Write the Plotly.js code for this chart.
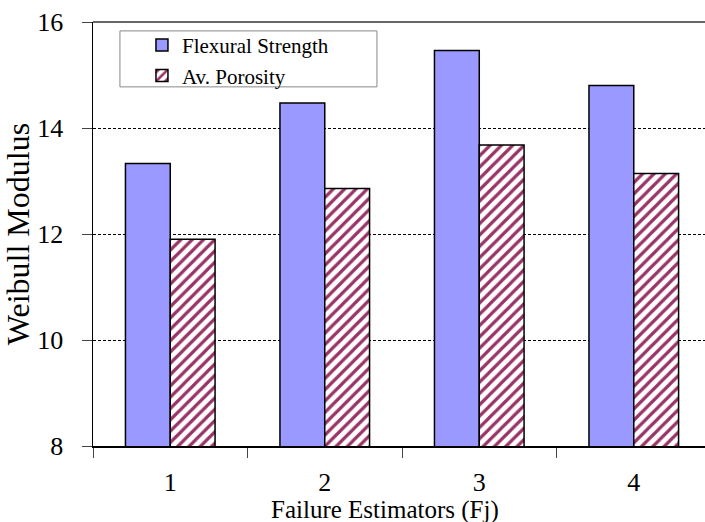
<!DOCTYPE html>
<html>
<head>
<meta charset="utf-8">
<script src="https://cdn.plot.ly/plotly-3.0.1.min.js"></script>
<style>html,body{margin:0;padding:0;background:#fff;}#chart{width:705px;height:522px;}</style>
</head>
<body>
<div id="chart"></div>
<script>
const categories = ["1", "2", "3", "4"];
const flexuralStrength = [13.33, 14.47, 15.46, 14.80];
const avPorosity = [11.90, 12.86, 13.68, 13.14];
const seriesNames = ["Flexural Strength", "Av. Porosity"];
const yTicks = [8, 10, 12, 14, 16];
const xTitle = "Failure Estimators (Fj)";
const yTitle = "Weibull Modulus";

const FONT = "'Liberation Serif', 'Times New Roman', serif";

const traces = [
  {
    type: "bar", name: seriesNames[0], x: categories, y: flexuralStrength,
    marker: {color: "#9999ff", line: {color: "#000", width: 1.5}}
  },
  {
    type: "bar", name: seriesNames[1], x: categories, y: avPorosity,
    marker: {color: "#ffffff", line: {color: "#000", width: 1.5},
      pattern: {shape: "/", fgcolor: "#993366", bgcolor: "#ffffff", size: 8, solidity: 0.4}}
  }
];

const layout = {
  width: 705, height: 522,
  margin: {l: 93, r: 0, t: 22, b: 76},
  paper_bgcolor: "#fff", plot_bgcolor: "#fff",
  barmode: "group", bargap: 0.42, bargroupgap: 0,
  font: {family: FONT, color: "#000", size: 22},
  xaxis: {
    type: "category", range: [-0.5, 3.461], tickson: "boundaries",
    ticks: "outside", ticklen: 10, tickcolor: "#444", tickwidth: 1,
    showline: true, linecolor: "#000", linewidth: 1.5, mirror: false,
    showgrid: false, zeroline: false,
    tickfont: {family: FONT, size: 26, color: "#000"}, ticklabelstandoff: 12
  },
  yaxis: {
    range: [8, 16], tickvals: yTicks, ticktext: yTicks.map(String),
    ticks: "outside", ticklen: 10, tickcolor: "#444",
    showline: true, linecolor: "#000", linewidth: 1.5,
    showgrid: true, gridcolor: "#000", gridwidth: 1, griddash: "3px,2px",
    zeroline: false, tickfont: {family: FONT, size: 26, color: "#000"}, ticklabelstandoff: 13,
    title: {text: yTitle, font: {family: FONT, size: 32, color: "#000"}, standoff: 2}
  },
  showlegend: true,
  legend: {
    x: 0.08, y: 0.993, xanchor: "left", yanchor: "top",
    bgcolor: "rgba(0,0,0,0)", borderwidth: 0,
    font: {family: FONT, size: 21, color: "#000"}, tracegroupgap: 0, itemwidth: 30
  },
  annotations: [
    {text: xTitle, xref: "paper", yref: "paper", x: 0.477, y: -0.15,
     xanchor: "center", yanchor: "middle", showarrow: false,
     font: {family: FONT, size: 25, color: "#000"}}
  ],
  shapes: [
    {type: "line", xref: "paper", yref: "paper", x0: 0, x1: 1, y0: 1, y1: 1,
     line: {color: "#333", width: 1.5}},
    {type: "rect", xref: "paper", yref: "paper", x0: 0.044, x1: 0.464, y0: 0.847, y1: 0.979,
     line: {color: "#888", width: 1}, fillcolor: "rgba(0,0,0,0)"}
  ]
};

Plotly.newPlot("chart", traces, layout, {displayModeBar: false, staticPlot: true});
</script>
</body>
</html>
